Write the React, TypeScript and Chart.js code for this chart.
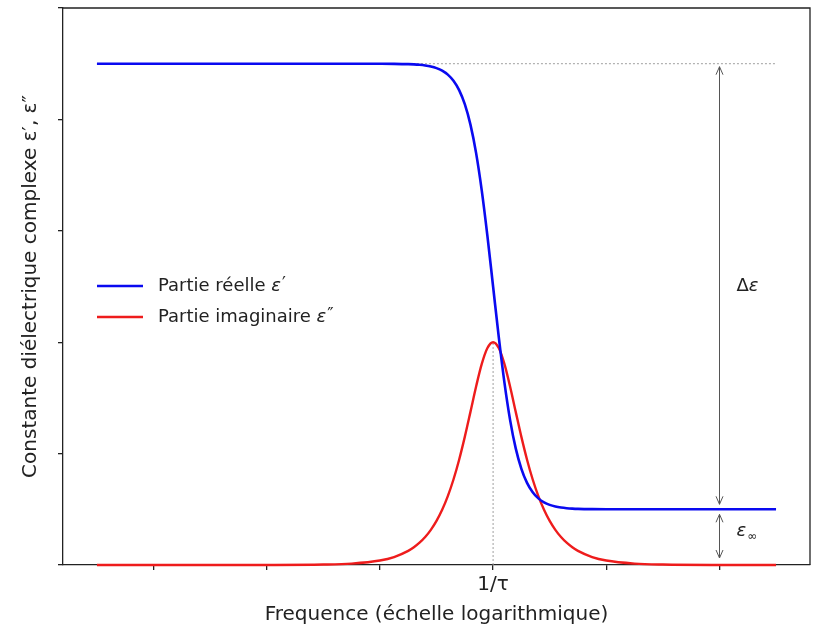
import { useEffect, useRef } from 'react';
import { Chart, registerables } from 'chart.js';

Chart.register(...registerables);

// log10(ω·τ)
const LOG_FREQ = [
  -7, -6, -5, -4, -3, -2.5, -2, -1.75,
  -1.5, -1.4, -1.3, -1.2, -1.1, -1.0, -0.9, -0.8, -0.7, -0.6, -0.5, -0.4, -0.3, -0.2, -0.1,
  0,
  0.1, 0.2, 0.3, 0.4, 0.5, 0.6, 0.7, 0.8, 0.9, 1.0, 1.1, 1.2, 1.3, 1.4, 1.5,
  1.75, 2, 2.5, 3, 4, 5,
];

// Partie réelle ε'
const EPS_REAL = [
  4.5, 4.5, 4.5, 4.5, 4.5, 4.5, 4.4996, 4.4987,
  4.496, 4.4937, 4.49, 4.4841, 4.4749, 4.4604, 4.4376, 4.402, 4.3469, 4.2626, 4.1364, 3.9528, 3.697, 3.361, 2.9525,
  2.5,
  2.0475, 1.639, 1.303, 1.0472, 0.8636, 0.7374, 0.6531, 0.598, 0.5624, 0.5396, 0.5251, 0.5159, 0.51, 0.5063, 0.504,
  0.5013, 0.5004, 0.5, 0.5, 0.5, 0.5,
];

// Partie imaginaire ε''
const EPS_IMAG = [
  0.0000004, 0.000004, 0.00004, 0.0004, 0.004, 0.0126, 0.04, 0.0711,
  0.1264, 0.159, 0.2, 0.2514, 0.3157, 0.396, 0.4957, 0.6184, 0.7675, 0.9451, 1.1499, 1.3746, 1.6023, 1.8052, 1.9481,
  2.0,
  1.9481, 1.8052, 1.6023, 1.3746, 1.1499, 0.9451, 0.7675, 0.6184, 0.4957, 0.396, 0.3157, 0.2514, 0.2, 0.159, 0.1264,
  0.0711, 0.04, 0.0126, 0.004, 0.0004, 0.00004,
];

const X_TICKS = [-6, -4, -2, 0, 2, 4];
const X_TICK_LABELS = ['', '', '', '1/τ', '', ''];
const Y_TICKS = [0, 1, 2, 3, 4, 5];
const X_RANGE = [-7.6, 5.6];
const Y_RANGE = [0, 5];

const EPS_STATIC = [4.5];
const EPS_INF = [0.5];
const PEAK = [0, 2];
const ARROW_X = [4];
const LABEL_X = [4.3];
const DELTA_LABEL_Y = [2.5];
const INF_LABEL_Y = [0.3];

const SERIES_NAMES = ['Partie réelle ', 'Partie imaginaire '];
const SERIES_SYMBOLS = ['ε', 'ε'];
const SERIES_PRIMES = ['\u2032', '\u2033'];
const SERIES_COLORS = ['#0a0af0', '#ee1c1c'];

const FONT = 'DejaVu Sans';
const TEXT = '#222222';

function arrowHead(ctx: CanvasRenderingContext2D, x: number, y: number, dir: number) {
  const len = 8;
  const half = 3.5;
  ctx.beginPath();
  ctx.moveTo(x - half, y - dir * len);
  ctx.lineTo(x, y);
  ctx.lineTo(x + half, y - dir * len);
  ctx.stroke();
}

function doubleArrow(ctx: CanvasRenderingContext2D, x: number, yTop: number, yBot: number) {
  ctx.beginPath();
  ctx.moveTo(x, yTop);
  ctx.lineTo(x, yBot);
  ctx.stroke();
  arrowHead(ctx, x, yTop, -1);
  arrowHead(ctx, x, yBot, 1);
}

const annotationPlugin = {
  id: 'debyeAnnotations',
  beforeDatasetsDraw(chart: any) {
    const { ctx, chartArea: a, scales } = chart;
    const xs = scales.x;
    const ys = scales.y;
    ctx.save();
    ctx.strokeStyle = '#222';
    ctx.lineWidth = 1.3;
    ctx.beginPath();
    ctx.moveTo(a.left, a.top);
    ctx.lineTo(a.right, a.top);
    ctx.lineTo(a.right, a.bottom);
    ctx.stroke();

    ctx.strokeStyle = '#a0a0a0';
    ctx.lineWidth = 1;
    ctx.setLineDash([2, 2]);
    ctx.beginPath();
    ctx.moveTo(xs.getPixelForValue(LOG_FREQ[0]), ys.getPixelForValue(EPS_STATIC[0]));
    ctx.lineTo(xs.getPixelForValue(LOG_FREQ[LOG_FREQ.length - 1]), ys.getPixelForValue(EPS_STATIC[0]));
    ctx.stroke();
    ctx.beginPath();
    ctx.moveTo(xs.getPixelForValue(PEAK[0]), ys.getPixelForValue(0));
    ctx.lineTo(xs.getPixelForValue(PEAK[0]), ys.getPixelForValue(PEAK[1]));
    ctx.stroke();
    ctx.setLineDash([]);

    ctx.strokeStyle = '#555';
    ctx.lineWidth = 1;
    const ax = Math.round(xs.getPixelForValue(ARROW_X[0])) + 0.5;
    const yS = ys.getPixelForValue(EPS_STATIC[0]);
    const yI = ys.getPixelForValue(EPS_INF[0]);
    const y0 = ys.getPixelForValue(0);
    doubleArrow(ctx, ax, yS + 3, yI - 5);
    doubleArrow(ctx, ax, yI + 5, y0 - 7);

    ctx.fillStyle = TEXT;
    ctx.textBaseline = 'middle';
    ctx.textAlign = 'left';
    const lx = xs.getPixelForValue(LABEL_X[0]);
    ctx.font = `18px "${FONT}"`;
    ctx.fillText('Δ', lx, ys.getPixelForValue(DELTA_LABEL_Y[0]));
    const dw = ctx.measureText('Δ').width;
    ctx.font = `italic 18px "${FONT}"`;
    ctx.fillText('ε', lx + dw, ys.getPixelForValue(DELTA_LABEL_Y[0]));

    const iy = ys.getPixelForValue(INF_LABEL_Y[0]);
    ctx.font = `italic 18px "${FONT}"`;
    ctx.fillText('ε', lx, iy);
    const ew = ctx.measureText('ε').width;
    ctx.font = `12px "${FONT}"`;
    ctx.fillText('∞', lx + ew + 1, iy + 5);
    ctx.restore();
  },
  afterDatasetsDraw(chart: any) {
    const { ctx, chartArea: a } = chart;
    ctx.save();
    const x0 = a.left + 34;
    const x1 = a.left + 80;
    const tx = a.left + 95;
    const rows = [a.top + 278, a.top + 309];
    rows.forEach((yy, i) => {
      ctx.strokeStyle = SERIES_COLORS[i];
      ctx.lineWidth = 2.5;
      ctx.beginPath();
      ctx.moveTo(x0, yy);
      ctx.lineTo(x1, yy);
      ctx.stroke();
      ctx.fillStyle = TEXT;
      ctx.textBaseline = 'middle';
      ctx.textAlign = 'left';
      ctx.font = `18px "${FONT}"`;
      ctx.fillText(SERIES_NAMES[i], tx, yy);
      const w = ctx.measureText(SERIES_NAMES[i]).width;
      ctx.font = `italic 18px "${FONT}"`;
      ctx.fillText(SERIES_SYMBOLS[i], tx + w, yy);
      const w2 = ctx.measureText(SERIES_SYMBOLS[i]).width;
      ctx.font = `17px "${FONT}"`;
      ctx.fillText(SERIES_PRIMES[i], tx + w + w2 + 1, yy - 1);
    });
    ctx.restore();
  },
};

export default function App() {
  const ref = useRef<HTMLCanvasElement | null>(null);

  useEffect(() => {
    if (!ref.current) return;
    const chart = new Chart(ref.current, {
      type: 'line',
      data: {
        datasets: [
          {
            label: 'Partie réelle ε′',
            data: LOG_FREQ.map((x, i) => ({ x, y: EPS_REAL[i] })),
            borderColor: SERIES_COLORS[0],
            borderWidth: 2.6,
            pointRadius: 0,
            cubicInterpolationMode: 'monotone',
            clip: false as any,
          },
          {
            label: 'Partie imaginaire ε″',
            data: LOG_FREQ.map((x, i) => ({ x, y: EPS_IMAG[i] })),
            borderColor: SERIES_COLORS[1],
            borderWidth: 2.4,
            pointRadius: 0,
            cubicInterpolationMode: 'monotone',
            clip: false as any,
          },
        ],
      },
      options: {
        responsive: false,
        animation: false,
        devicePixelRatio: 1,
        layout: { padding: { left: 4, right: 4, top: 8, bottom: 0 } },
        plugins: { legend: { display: false }, tooltip: { enabled: false } },
        scales: {
          x: {
            type: 'linear',
            min: X_RANGE[0],
            max: X_RANGE[1],
            afterBuildTicks: (s: any) => {
              s.ticks = X_TICKS.map((v) => ({ value: v }));
            },
            ticks: {
              autoSkip: false,
              maxRotation: 0,
              padding: 3,
              color: TEXT,
              font: { family: FONT, size: 20 },
              callback: (_v: any, i: number) => X_TICK_LABELS[i],
            },
            grid: { drawOnChartArea: false, drawTicks: true, tickLength: 5, color: '#222', lineWidth: 1.3 },
            border: { display: true, color: '#222', width: 1.3 },
            title: {
              display: true,
              text: 'Frequence (échelle logarithmique)',
              color: TEXT,
              font: { family: FONT, size: 20 },
              padding: { top: 3, bottom: 1 },
            },
          },
          y: {
            type: 'linear',
            min: Y_RANGE[0],
            max: Y_RANGE[1],
            afterBuildTicks: (s: any) => {
              s.ticks = Y_TICKS.map((v) => ({ value: v }));
            },
            ticks: { display: false },
            grid: { drawOnChartArea: false, drawTicks: true, tickLength: 5, color: '#222', lineWidth: 1.3 },
            border: { display: true, color: '#222', width: 1.3 },
            title: {
              display: true,
              text: 'Constante diélectrique complexe ε′, ε″',
              color: TEXT,
              font: { family: FONT, size: 20 },
              padding: { top: 15, bottom: 15 },
            },
          },
        },
      },
      plugins: [annotationPlugin],
    } as any);
    return () => chart.destroy();
  }, []);

  return (
    <div style={{ position: 'absolute', left: 0, top: 0, width: 814, height: 628, background: '#fff' }}>
      <canvas ref={ref} width={814} height={628} style={{ width: 814, height: 628, display: 'block' }} />
    </div>
  );
}
